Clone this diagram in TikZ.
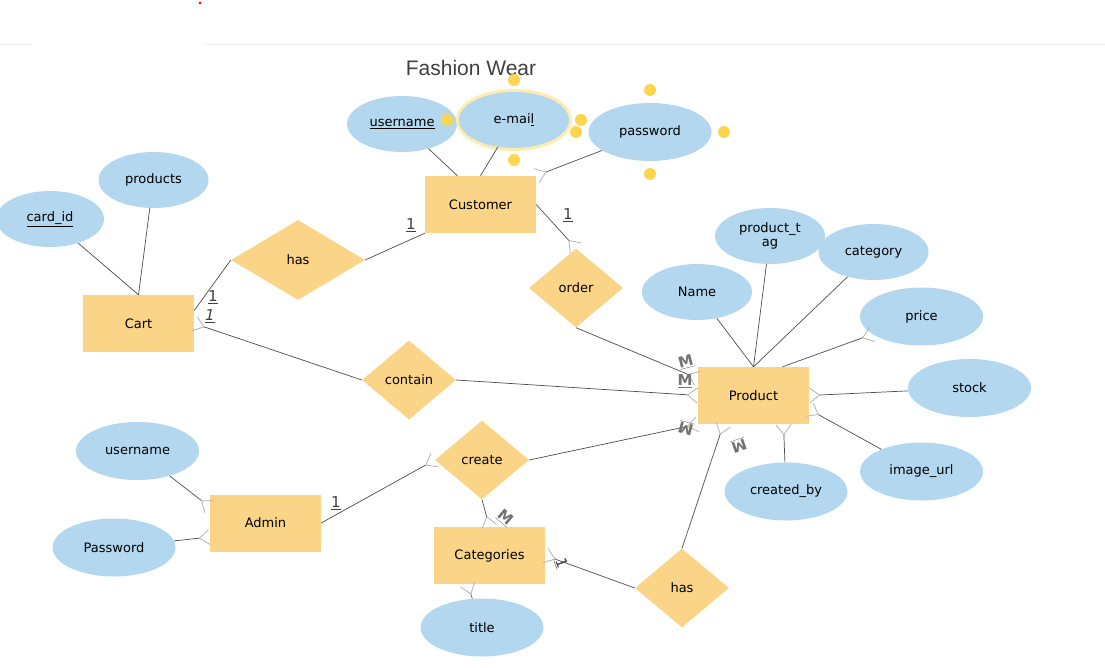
\documentclass[tikz,border=0pt]{standalone}
\usepackage{fontspec}
\setmainfont{DejaVu Sans}
\newfontfamily\titlefont{Liberation Sans}
\usetikzlibrary{shapes.geometric,arrows.meta}
\definecolor{entfill}{RGB}{251,213,135}
\definecolor{attfill}{RGB}{179,215,238}
\definecolor{handle}{RGB}{255,213,79}
\definecolor{glow}{RGB}{255,236,170}

\begin{document}
\begin{tikzpicture}[x=1pt,y=-1pt,
        entity/.style = {rectangle, fill=entfill, minimum width=111pt,
                         minimum height=57pt, inner sep=0pt},
          attr/.style = {ellipse, fill=attfill, minimum width=110pt,
                         minimum height=56pt, inner sep=0pt},
         wattr/.style = {attr, minimum width=123pt, minimum height=58pt},
           rel/.style = {diamond, fill=entfill, minimum width=94pt,
                         minimum height=79pt, inner sep=0pt},
            ln/.style = {draw=black!70, line width=0.7pt},
          crow/.style = {ln, -{Straight Barb[reversed,length=10pt,width=15pt,
                         line width=0.8pt,color=gray!60]}},
           one/.style = {text=black!75, font=\fontsize{15}{15}\selectfont},
          many/.style = {text=black!55, font=\fontsize{15}{15}\selectfont\bfseries},
        handle/.style = {circle, fill=handle, minimum size=12pt, inner sep=0pt},
             font = \fontsize{13}{15}\selectfont
                                ]
        \useasboundingbox (0,0) rectangle (1105,668);
        % page border
        \draw[black!7, line width=1pt] (0,45) -- (31,45) (204,45) -- (1105,45);
        \fill[red] (200,3) circle (1.5);
        \node[font=\titlefont\fontsize{21}{21}\selectfont, text=black!75]
            (heading) at (471,68) {Fashion Wear};

        % entities
        \node[entity] (cust)  at (480.5,204.5) {Customer};
        \node[entity] (cart)  at (138.5,323.5) {Cart};
        \node[entity] (prod)  at (753.5,395.5) {Product};
        \node[entity] (admin) at (265.5,523)   {Admin};
        \node[entity] (cat)   at (489.5,555.5) {Categories};

        % relationships
        \node[rel, minimum width=134pt, minimum height=80pt] (has) at (298,260) {has};
        \node[rel] (order)   at (576,288) {order};
        \node[rel] (contain) at (409,380) {contain};
        \node[rel] (create)  at (482,460) {create};
        \node[rel] (hasb)    at (682,588) {has};

        % attributes
        \node[attr] (uname) at (402,124) {\underline{username}};
        \draw[glow, line width=4pt] (514,120) ellipse (56 and 29);
        \node[attr] (email) at (514,120) {e-mai\underline{l}};
        \node[wattr] (pwd)  at (650,132) {password};
        \node[attr] (products) at (153.5,180) {products};
        \node[attr, minimum width=108pt] (cardid) at (50,219) {\underline{card\_id}};
        \node[attr, align=center, font=\fontsize{13}{14}\selectfont]
            (ptag) at (770,236) {product\_t\\ag};
        \node[attr] (category) at (873.5,252) {category};
        \node[attr] (pname)    at (697,292)   {Name};
        \node[wattr] (price)   at (921.5,316.5) {price};
        \node[wattr] (stock)   at (969.5,388)   {stock};
        \node[wattr] (imgurl)  at (921.5,471.5) {image\_url};
        \node[wattr] (createdby) at (786,491.5) {created\_by};
        \node[wattr] (auname)  at (137.5,451)   {username};
        \node[wattr] (apwd)    at (114,547.5)   {Password};
        \node[wattr] (cattitle) at (482,627.5)  {title};

        % selection handles
        \foreach \p in {(514,80),(447,120),(581,120),(514,160),
                        (650,90),(576,132),(724,132),(650,174)}
            \node[handle] at \p {};

        % customer attributes
        \draw[ln] (uname) -- ([xshift=-23pt]cust.north);
        \draw[ln] (email) -- (cust.north);
        \draw[crow] (pwd) -- (cust.north east);
        % cart
        \draw[ln] (cardid) -- (cart.north);
        \draw[ln] (products) -- (cart.north);
        \draw[ln] (cust.south west) -- (has.east);
        \draw[ln] (has.west) -- ([yshift=13pt]cart.east);
        \draw[crow] (contain.west) -- (cart.east);
        \draw[crow] (contain.east) -- (prod.west);
        % order
        \draw[crow] (cust.east) -- (order.north);
        \draw[crow] (order.south) -- ([yshift=17pt]prod.west);
        % product attributes
        \draw[ln] (pname) -- (prod.north);
        \draw[ln] (ptag) -- (prod.north);
        \draw[ln] (category) -- (prod.north);
        \draw[crow] ([xshift=29pt]prod.north) -- (price);
        \draw[crow] (stock) -- (prod.east);
        \draw[crow] (imgurl) -- ([yshift=-14pt]prod.east);
        \draw[crow] (createdby) -- ([xshift=30pt]prod.south);
        % admin and categories
        \draw[crow] (auname) -- ([yshift=16pt]admin.west);
        \draw[crow] (apwd) -- ([yshift=-14pt]admin.west);
        \draw[crow] (admin.east) -- (create.west);
        \draw[crow] (create.east) -- (prod.south west);
        \draw[crow] (create.south) -- (cat.north);
        \draw[crow] (hasb.west) -- (cat.east);
        \draw[crow] (hasb.north) -- ([xshift=-30pt]prod.south);
        \draw[crow] (cattitle) -- ([xshift=-22pt]cat.south);

        % cardinalities
        \node[one] (c1) at (411,225) {\underline{1}};
        \node[one] (c2) at (213,297) {\underline{1}};
        \node[one] (c3) at (210,316) {\textit{\underline{1}}};
        \node[one] (c4) at (568,215) {\underline{1}};
        \node[one] (c5) at (336,503) {\underline{1}};
        \node[one, rotate=-70] (c6) at (561,563) {\underline{1}};
        \node[many, rotate=15]  (m1) at (686,362) {\underline{M}};
        \node[many]             (m2) at (685,381) {\underline{M}};
        \node[many, rotate=165] (m3) at (686,428) {\underline{M}};
        \node[many, rotate=200] (m4) at (739,445) {\underline{M}};
        \node[many, rotate=-40] (m5) at (505,518) {\underline{M}};

    \end{tikzpicture}
\end{document}
